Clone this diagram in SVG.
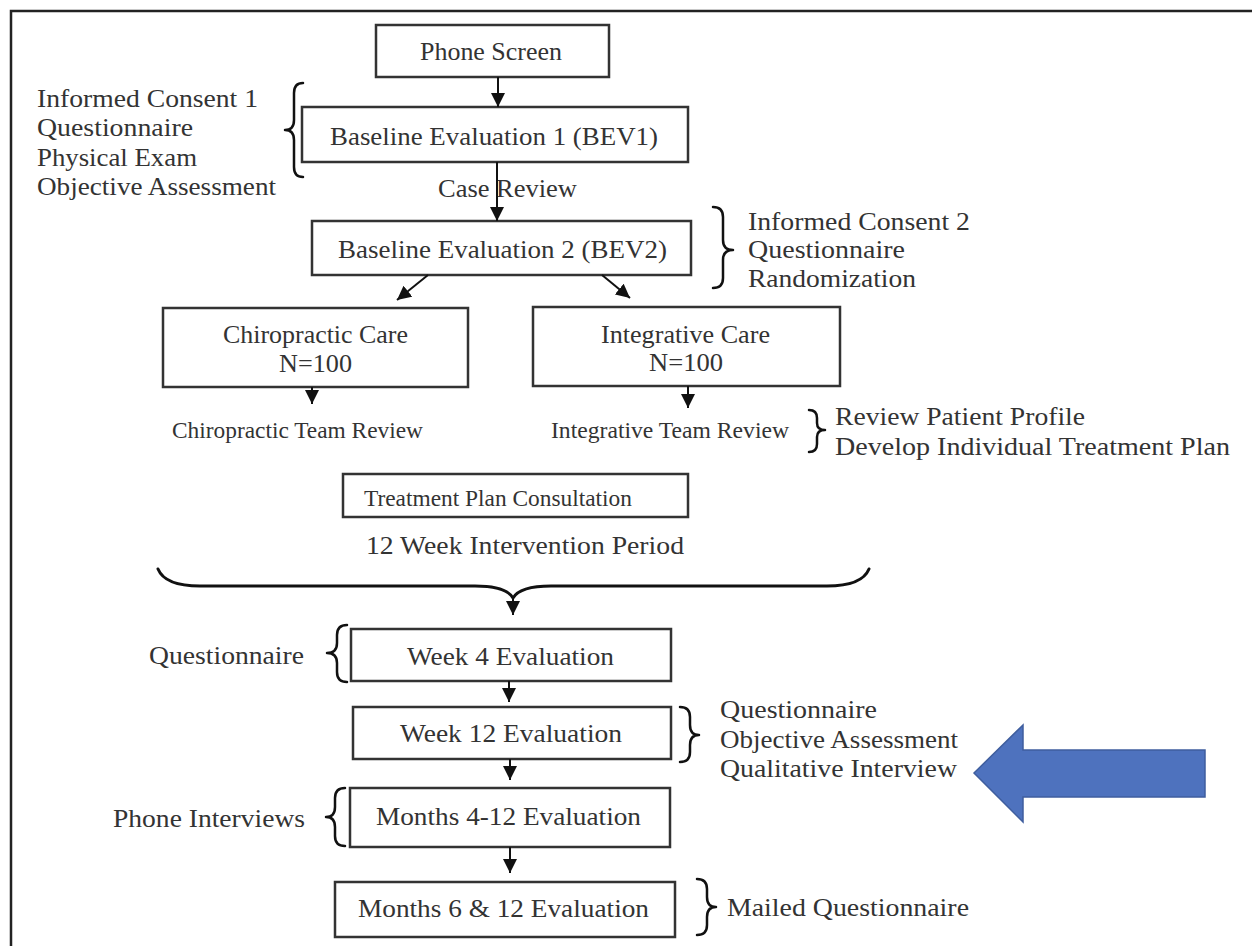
<svg xmlns="http://www.w3.org/2000/svg" width="1252" height="946" viewBox="0 0 1252 946">
<style>
.bg{fill:#ffffff}
.frame{fill:none;stroke:#222;stroke-width:2.5}
.box{fill:#fff;stroke:#333;stroke-width:2.5}
.t{font-family:"Liberation Serif","Times New Roman",serif;font-size:25px;fill:#333}
.s{font-family:"Liberation Serif","Times New Roman",serif;font-size:23px;fill:#333}
.br{fill:none;stroke:#111;stroke-width:2.5;stroke-linecap:round;stroke-linejoin:round}
.con{stroke:#111;stroke-width:2;fill:none}
.blue{fill:#4E72BE;stroke:#3F5E9E;stroke-width:1.5}
</style>
<defs>
<marker id="ah" markerUnits="userSpaceOnUse" markerWidth="14" markerHeight="14" refX="14" refY="7" orient="auto">
<path d="M0,0 L14,7 L0,14 z" fill="#111"/>
</marker>
</defs>
<rect class="bg" x="0" y="0" width="1252" height="946"/>
<rect class="frame" x="11" y="11" width="1270" height="960"/>

<g id="phone-screen"><rect class="box" x="376" y="25" width="233" height="52"/><text class="t" x="420" y="60" textLength="142" lengthAdjust="spacingAndGlyphs">Phone Screen</text></g>
<g id="bev1"><rect class="box" x="302" y="107" width="386" height="55"/><text class="t" x="330" y="145" textLength="328" lengthAdjust="spacingAndGlyphs">Baseline Evaluation 1 (BEV1)</text></g>
<g id="bev1-notes">
<path class="br" d="M303,83 Q294,83 294,93 L294,120 Q294,130 285,130 Q294,130 294,140 L294,167 Q294,177 303,177"/>
<text class="t" x="37" y="107" textLength="221" lengthAdjust="spacingAndGlyphs">Informed Consent 1</text>
<text class="t" x="37" y="136" textLength="156" lengthAdjust="spacingAndGlyphs">Questionnaire</text>
<text class="t" x="37" y="166" textLength="160" lengthAdjust="spacingAndGlyphs">Physical Exam</text>
<text class="t" x="37" y="195" textLength="239" lengthAdjust="spacingAndGlyphs">Objective Assessment</text>
</g>
<g id="case-review"><text class="t" x="438" y="197" textLength="139" lengthAdjust="spacingAndGlyphs">Case Review</text></g>
<g id="bev2"><rect class="box" x="312" y="221" width="379" height="54"/><text class="t" x="338" y="258" textLength="329" lengthAdjust="spacingAndGlyphs">Baseline Evaluation 2 (BEV2)</text></g>
<g id="bev2-notes">
<path class="br" d="M713,207 Q723,207 723,217 L723,240 Q723,250 733,250 Q723,250 723,260 L723,278 Q723,288 713,288"/>
<text class="t" x="748" y="230" textLength="222" lengthAdjust="spacingAndGlyphs">Informed Consent 2</text>
<text class="t" x="748" y="258" textLength="157" lengthAdjust="spacingAndGlyphs">Questionnaire</text>
<text class="t" x="748" y="287" textLength="168" lengthAdjust="spacingAndGlyphs">Randomization</text>
</g>
<g id="chiro"><rect class="box" x="163" y="308" width="305" height="79"/>
<text class="t" x="223" y="343" textLength="185" lengthAdjust="spacingAndGlyphs">Chiropractic Care</text>
<text class="t" x="279" y="372" textLength="73" lengthAdjust="spacingAndGlyphs">N=100</text></g>
<g id="integ"><rect class="box" x="533" y="307" width="307" height="79"/>
<text class="t" x="601" y="343" textLength="169" lengthAdjust="spacingAndGlyphs">Integrative Care</text>
<text class="t" x="649" y="371" textLength="74" lengthAdjust="spacingAndGlyphs">N=100</text></g>
<g id="chiro-team"><text class="s" x="172" y="438" textLength="251" lengthAdjust="spacingAndGlyphs">Chiropractic Team Review</text></g>
<g id="integ-team"><text class="s" x="551" y="438" textLength="238" lengthAdjust="spacingAndGlyphs">Integrative Team Review</text></g>
<g id="integ-notes">
<path class="br" d="M809,410 Q817,410 817,418 L817,423 Q817,430 825,430 Q817,430 817,437 L817,444 Q817,452 809,452"/>
<text class="t" x="835" y="425" textLength="250" lengthAdjust="spacingAndGlyphs">Review Patient Profile</text>
<text class="t" x="835" y="455" textLength="395" lengthAdjust="spacingAndGlyphs">Develop Individual Treatment Plan</text>
</g>
<g id="consult"><rect class="box" x="343" y="474" width="345" height="43"/><text class="s" x="364" y="506" textLength="268" lengthAdjust="spacingAndGlyphs">Treatment Plan Consultation</text></g>
<g id="period"><text class="t" x="366" y="554" textLength="318" lengthAdjust="spacingAndGlyphs">12 Week Intervention Period</text>
<path class="br" style="stroke-width:3" d="M158,569 Q165,586 200,586 L475,586 Q506,586 513,598 Q520,586 551,586 L827,586 Q862,586 869,569"/></g>
<g id="week4"><rect class="box" x="351" y="629" width="320" height="52"/><text class="t" x="407" y="665" textLength="207" lengthAdjust="spacingAndGlyphs">Week 4 Evaluation</text></g>
<g id="week4-notes"><path class="br" d="M347,625 Q337,625 337,635 L337,643 Q337,653 327,653 Q337,653 337,663 L337,672 Q337,682 347,682"/>
<text class="t" x="149" y="664" textLength="155" lengthAdjust="spacingAndGlyphs">Questionnaire</text></g>
<g id="week12"><rect class="box" x="353" y="707" width="318" height="52"/><text class="t" x="400" y="742" textLength="222" lengthAdjust="spacingAndGlyphs">Week 12 Evaluation</text></g>
<g id="week12-notes"><path class="br" d="M680,707 Q690,707 690,717 L690,725 Q690,735 699,735 Q690,735 690,745 L690,752 Q690,762 680,762"/>
<text class="t" x="720" y="718" textLength="157" lengthAdjust="spacingAndGlyphs">Questionnaire</text>
<text class="t" x="720" y="748" textLength="238" lengthAdjust="spacingAndGlyphs">Objective Assessment</text>
<text class="t" x="720" y="777" textLength="237" lengthAdjust="spacingAndGlyphs">Qualitative Interview</text></g>
<g id="months4-12"><rect class="box" x="350" y="788" width="320" height="59"/><text class="t" x="376" y="825" textLength="265" lengthAdjust="spacingAndGlyphs">Months 4-12 Evaluation</text></g>
<g id="months4-12-notes"><path class="br" d="M345,788 Q335,788 335,798 L335,807 Q335,817 326,817 Q335,817 335,827 L335,836 Q335,846 345,846"/>
<text class="t" x="113" y="827" textLength="192" lengthAdjust="spacingAndGlyphs">Phone Interviews</text></g>
<g id="months6-12"><rect class="box" x="335" y="882" width="340" height="55"/><text class="t" x="358" y="917" textLength="291" lengthAdjust="spacingAndGlyphs">Months 6 &amp; 12 Evaluation</text></g>
<g id="months6-12-notes"><path class="br" d="M697,879 Q707,879 707,889 L707,897 Q707,907 716,907 Q707,907 707,917 L707,925 Q707,935 697,935"/>
<text class="t" x="727" y="916" textLength="242" lengthAdjust="spacingAndGlyphs">Mailed Questionnaire</text></g>
<g id="blue-arrow"><polygon class="blue" points="974,773 1023,725 1023,750 1205,750 1205,797 1023,797 1023,822"/></g>

<g id="connectors">
<line class="con" x1="498" y1="77" x2="498" y2="107" marker-end="url(#ah)"/>
<line class="con" x1="497" y1="162" x2="497" y2="221" marker-end="url(#ah)"/>
<line class="con" x1="428" y1="275" x2="397" y2="300" marker-end="url(#ah)"/>
<line class="con" x1="602" y1="275" x2="630" y2="298" marker-end="url(#ah)"/>
<line class="con" x1="312" y1="387" x2="312" y2="404" marker-end="url(#ah)"/>
<line class="con" x1="688" y1="386" x2="688" y2="408" marker-end="url(#ah)"/>
<line class="con" x1="513" y1="598" x2="513" y2="615" marker-end="url(#ah)"/>
<line class="con" x1="509" y1="681" x2="509" y2="702" marker-end="url(#ah)"/>
<line class="con" x1="510" y1="759" x2="510" y2="780" marker-end="url(#ah)"/>
<line class="con" x1="510" y1="847" x2="510" y2="873" marker-end="url(#ah)"/>
</g>
</svg>
